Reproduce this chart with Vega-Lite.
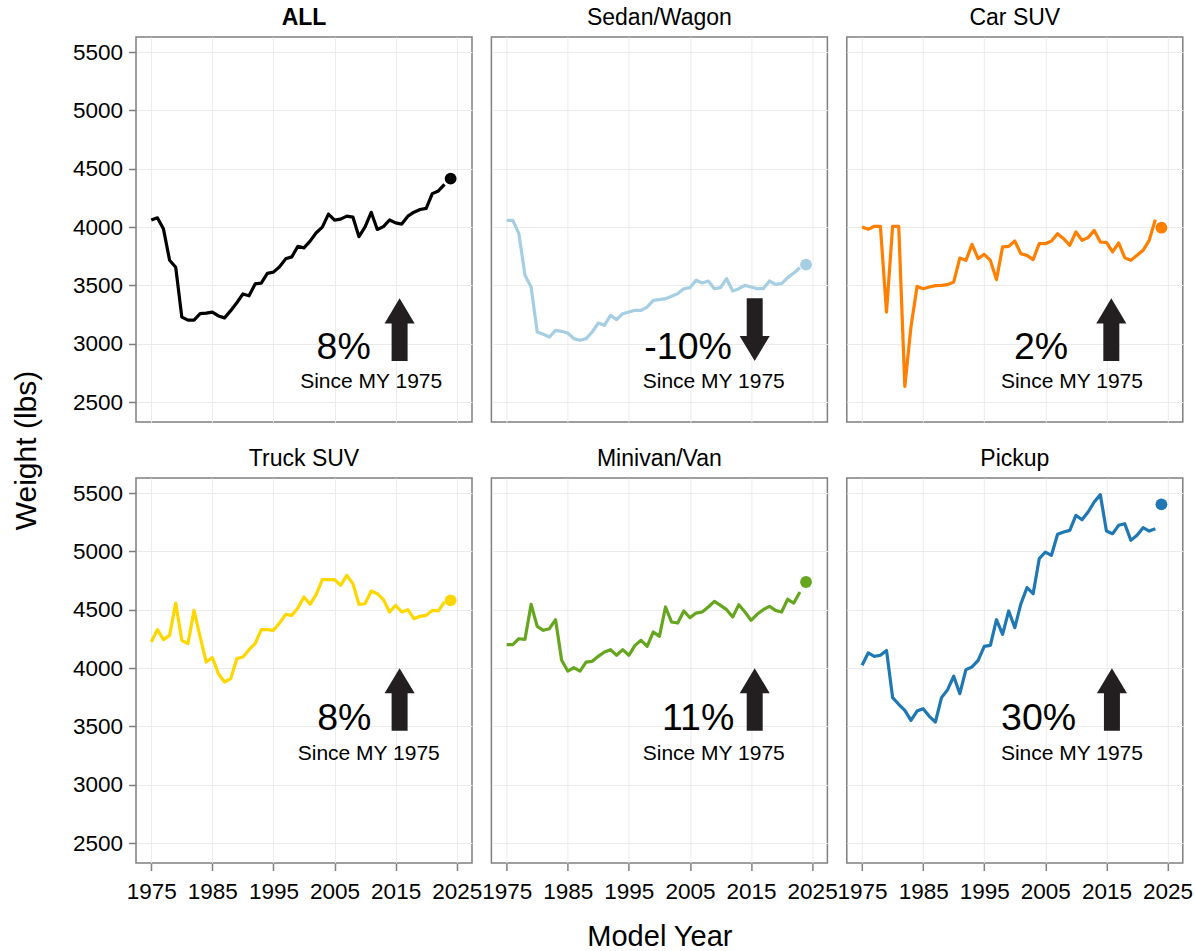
{
  "$schema": "https://vega.github.io/schema/vega-lite/v6.json",
  "padding": {"left": 10, "top": 6, "right": 5, "bottom": 0},
  "background": "#ffffff",
  "columns": 3,
  "spacing": {"row": 56, "column": 19.4},
  "bounds": "flush",
  "config": {
    "font": "Liberation Sans",
    "view": {"stroke": "#7f7f7f", "strokeWidth": 1.5},
    "axis": {"grid": true, "gridColor": "#ebebeb", "gridWidth": 1, "domain": false, "tickColor": "#7f7f7f", "tickWidth": 1.5, "tickSize": 7.5, "labelFontSize": 22.5, "labelColor": "#000000", "titleFontSize": 30, "titleFontWeight": "normal", "titleColor": "#000000", "labelFont": "Liberation Sans", "titleFont": "Liberation Sans"},
    "axisX": {"labelPadding": 10},
    "axisY": {"labelPadding": 6},
    "title": {"fontSize": 23, "fontWeight": "normal", "color": "#000000", "anchor": "middle", "frame": "group", "offset": 7, "baseline": "alphabetic", "font": "Liberation Sans"},
    "text": {"font": "Liberation Sans", "color": "#000000"}
  },
  "datasets": {
    "w": [
      {"cat":"ALL","year":1975,"weight":4060},{"cat":"ALL","year":1976,"weight":4079},{"cat":"ALL","year":1977,"weight":3982},{"cat":"ALL","year":1978,"weight":3715},{"cat":"ALL","year":1979,"weight":3655},{"cat":"ALL","year":1980,"weight":3228},{"cat":"ALL","year":1981,"weight":3202},{"cat":"ALL","year":1982,"weight":3202},{"cat":"ALL","year":1983,"weight":3257},{"cat":"ALL","year":1984,"weight":3262},{"cat":"ALL","year":1985,"weight":3271},{"cat":"ALL","year":1986,"weight":3238},{"cat":"ALL","year":1987,"weight":3221},{"cat":"ALL","year":1988,"weight":3283},{"cat":"ALL","year":1989,"weight":3351},{"cat":"ALL","year":1990,"weight":3426},{"cat":"ALL","year":1991,"weight":3410},{"cat":"ALL","year":1992,"weight":3512},{"cat":"ALL","year":1993,"weight":3519},{"cat":"ALL","year":1994,"weight":3603},{"cat":"ALL","year":1995,"weight":3613},{"cat":"ALL","year":1996,"weight":3659},{"cat":"ALL","year":1997,"weight":3727},{"cat":"ALL","year":1998,"weight":3744},{"cat":"ALL","year":1999,"weight":3835},{"cat":"ALL","year":2000,"weight":3821},{"cat":"ALL","year":2001,"weight":3879},{"cat":"ALL","year":2002,"weight":3951},{"cat":"ALL","year":2003,"weight":3999},{"cat":"ALL","year":2004,"weight":4111},{"cat":"ALL","year":2005,"weight":4059},{"cat":"ALL","year":2006,"weight":4067},{"cat":"ALL","year":2007,"weight":4093},{"cat":"ALL","year":2008,"weight":4085},{"cat":"ALL","year":2009,"weight":3917},{"cat":"ALL","year":2010,"weight":4001},{"cat":"ALL","year":2011,"weight":4126},{"cat":"ALL","year":2012,"weight":3979},{"cat":"ALL","year":2013,"weight":4003},{"cat":"ALL","year":2014,"weight":4060},{"cat":"ALL","year":2015,"weight":4035},{"cat":"ALL","year":2016,"weight":4025},{"cat":"ALL","year":2017,"weight":4093},{"cat":"ALL","year":2018,"weight":4127},{"cat":"ALL","year":2019,"weight":4150},{"cat":"ALL","year":2020,"weight":4160},{"cat":"ALL","year":2021,"weight":4286},{"cat":"ALL","year":2022,"weight":4309},{"cat":"ALL","year":2023,"weight":4366},{"cat":"ALL","year":2024,"weight":4415},
      {"cat":"Sedan/Wagon","year":1975,"weight":4057},{"cat":"Sedan/Wagon","year":1976,"weight":4057},{"cat":"Sedan/Wagon","year":1977,"weight":3943},{"cat":"Sedan/Wagon","year":1978,"weight":3586},{"cat":"Sedan/Wagon","year":1979,"weight":3486},{"cat":"Sedan/Wagon","year":1980,"weight":3100},{"cat":"Sedan/Wagon","year":1981,"weight":3080},{"cat":"Sedan/Wagon","year":1982,"weight":3057},{"cat":"Sedan/Wagon","year":1983,"weight":3114},{"cat":"Sedan/Wagon","year":1984,"weight":3106},{"cat":"Sedan/Wagon","year":1985,"weight":3091},{"cat":"Sedan/Wagon","year":1986,"weight":3043},{"cat":"Sedan/Wagon","year":1987,"weight":3029},{"cat":"Sedan/Wagon","year":1988,"weight":3043},{"cat":"Sedan/Wagon","year":1989,"weight":3100},{"cat":"Sedan/Wagon","year":1990,"weight":3177},{"cat":"Sedan/Wagon","year":1991,"weight":3157},{"cat":"Sedan/Wagon","year":1992,"weight":3243},{"cat":"Sedan/Wagon","year":1993,"weight":3206},{"cat":"Sedan/Wagon","year":1994,"weight":3257},{"cat":"Sedan/Wagon","year":1995,"weight":3271},{"cat":"Sedan/Wagon","year":1996,"weight":3286},{"cat":"Sedan/Wagon","year":1997,"weight":3286},{"cat":"Sedan/Wagon","year":1998,"weight":3314},{"cat":"Sedan/Wagon","year":1999,"weight":3371},{"cat":"Sedan/Wagon","year":2000,"weight":3377},{"cat":"Sedan/Wagon","year":2001,"weight":3386},{"cat":"Sedan/Wagon","year":2002,"weight":3406},{"cat":"Sedan/Wagon","year":2003,"weight":3429},{"cat":"Sedan/Wagon","year":2004,"weight":3471},{"cat":"Sedan/Wagon","year":2005,"weight":3480},{"cat":"Sedan/Wagon","year":2006,"weight":3543},{"cat":"Sedan/Wagon","year":2007,"weight":3520},{"cat":"Sedan/Wagon","year":2008,"weight":3537},{"cat":"Sedan/Wagon","year":2009,"weight":3471},{"cat":"Sedan/Wagon","year":2010,"weight":3480},{"cat":"Sedan/Wagon","year":2011,"weight":3557},{"cat":"Sedan/Wagon","year":2012,"weight":3451},{"cat":"Sedan/Wagon","year":2013,"weight":3471},{"cat":"Sedan/Wagon","year":2014,"weight":3500},{"cat":"Sedan/Wagon","year":2015,"weight":3486},{"cat":"Sedan/Wagon","year":2016,"weight":3471},{"cat":"Sedan/Wagon","year":2017,"weight":3471},{"cat":"Sedan/Wagon","year":2018,"weight":3537},{"cat":"Sedan/Wagon","year":2019,"weight":3509},{"cat":"Sedan/Wagon","year":2020,"weight":3514},{"cat":"Sedan/Wagon","year":2021,"weight":3566},{"cat":"Sedan/Wagon","year":2022,"weight":3606},{"cat":"Sedan/Wagon","year":2023,"weight":3651},{"cat":"Sedan/Wagon","year":2024,"weight":3677},
      {"cat":"Car SUV","year":1975,"weight":4000},{"cat":"Car SUV","year":1976,"weight":3980},{"cat":"Car SUV","year":1977,"weight":4006},{"cat":"Car SUV","year":1978,"weight":4006},{"cat":"Car SUV","year":1979,"weight":3271},{"cat":"Car SUV","year":1980,"weight":4006},{"cat":"Car SUV","year":1981,"weight":4006},{"cat":"Car SUV","year":1982,"weight":2634},{"cat":"Car SUV","year":1983,"weight":3143},{"cat":"Car SUV","year":1984,"weight":3491},{"cat":"Car SUV","year":1985,"weight":3471},{"cat":"Car SUV","year":1986,"weight":3486},{"cat":"Car SUV","year":1987,"weight":3497},{"cat":"Car SUV","year":1988,"weight":3500},{"cat":"Car SUV","year":1989,"weight":3506},{"cat":"Car SUV","year":1990,"weight":3529},{"cat":"Car SUV","year":1991,"weight":3734},{"cat":"Car SUV","year":1992,"weight":3714},{"cat":"Car SUV","year":1993,"weight":3851},{"cat":"Car SUV","year":1994,"weight":3729},{"cat":"Car SUV","year":1995,"weight":3766},{"cat":"Car SUV","year":1996,"weight":3714},{"cat":"Car SUV","year":1997,"weight":3549},{"cat":"Car SUV","year":1998,"weight":3829},{"cat":"Car SUV","year":1999,"weight":3834},{"cat":"Car SUV","year":2000,"weight":3880},{"cat":"Car SUV","year":2001,"weight":3771},{"cat":"Car SUV","year":2002,"weight":3757},{"cat":"Car SUV","year":2003,"weight":3720},{"cat":"Car SUV","year":2004,"weight":3857},{"cat":"Car SUV","year":2005,"weight":3857},{"cat":"Car SUV","year":2006,"weight":3880},{"cat":"Car SUV","year":2007,"weight":3943},{"cat":"Car SUV","year":2008,"weight":3900},{"cat":"Car SUV","year":2009,"weight":3843},{"cat":"Car SUV","year":2010,"weight":3957},{"cat":"Car SUV","year":2011,"weight":3886},{"cat":"Car SUV","year":2012,"weight":3909},{"cat":"Car SUV","year":2013,"weight":3971},{"cat":"Car SUV","year":2014,"weight":3871},{"cat":"Car SUV","year":2015,"weight":3869},{"cat":"Car SUV","year":2016,"weight":3786},{"cat":"Car SUV","year":2017,"weight":3863},{"cat":"Car SUV","year":2018,"weight":3737},{"cat":"Car SUV","year":2019,"weight":3714},{"cat":"Car SUV","year":2020,"weight":3757},{"cat":"Car SUV","year":2021,"weight":3800},{"cat":"Car SUV","year":2022,"weight":3886},{"cat":"Car SUV","year":2023,"weight":4063},{"cat":"Car SUV","year":2024,"weight":3994},
      {"cat":"Truck SUV","year":1975,"weight":4223},{"cat":"Truck SUV","year":1976,"weight":4329},{"cat":"Truck SUV","year":1977,"weight":4243},{"cat":"Truck SUV","year":1978,"weight":4280},{"cat":"Truck SUV","year":1979,"weight":4557},{"cat":"Truck SUV","year":1980,"weight":4237},{"cat":"Truck SUV","year":1981,"weight":4209},{"cat":"Truck SUV","year":1982,"weight":4494},{"cat":"Truck SUV","year":1983,"weight":4266},{"cat":"Truck SUV","year":1984,"weight":4051},{"cat":"Truck SUV","year":1985,"weight":4089},{"cat":"Truck SUV","year":1986,"weight":3951},{"cat":"Truck SUV","year":1987,"weight":3880},{"cat":"Truck SUV","year":1988,"weight":3909},{"cat":"Truck SUV","year":1989,"weight":4080},{"cat":"Truck SUV","year":1990,"weight":4094},{"cat":"Truck SUV","year":1991,"weight":4157},{"cat":"Truck SUV","year":1992,"weight":4209},{"cat":"Truck SUV","year":1993,"weight":4329},{"cat":"Truck SUV","year":1994,"weight":4329},{"cat":"Truck SUV","year":1995,"weight":4323},{"cat":"Truck SUV","year":1996,"weight":4386},{"cat":"Truck SUV","year":1997,"weight":4460},{"cat":"Truck SUV","year":1998,"weight":4451},{"cat":"Truck SUV","year":1999,"weight":4514},{"cat":"Truck SUV","year":2000,"weight":4609},{"cat":"Truck SUV","year":2001,"weight":4546},{"cat":"Truck SUV","year":2002,"weight":4631},{"cat":"Truck SUV","year":2003,"weight":4757},{"cat":"Truck SUV","year":2004,"weight":4757},{"cat":"Truck SUV","year":2005,"weight":4757},{"cat":"Truck SUV","year":2006,"weight":4709},{"cat":"Truck SUV","year":2007,"weight":4794},{"cat":"Truck SUV","year":2008,"weight":4723},{"cat":"Truck SUV","year":2009,"weight":4546},{"cat":"Truck SUV","year":2010,"weight":4551},{"cat":"Truck SUV","year":2011,"weight":4660},{"cat":"Truck SUV","year":2012,"weight":4637},{"cat":"Truck SUV","year":2013,"weight":4586},{"cat":"Truck SUV","year":2014,"weight":4480},{"cat":"Truck SUV","year":2015,"weight":4537},{"cat":"Truck SUV","year":2016,"weight":4480},{"cat":"Truck SUV","year":2017,"weight":4500},{"cat":"Truck SUV","year":2018,"weight":4423},{"cat":"Truck SUV","year":2019,"weight":4443},{"cat":"Truck SUV","year":2020,"weight":4451},{"cat":"Truck SUV","year":2021,"weight":4494},{"cat":"Truck SUV","year":2022,"weight":4489},{"cat":"Truck SUV","year":2023,"weight":4566},{"cat":"Truck SUV","year":2024,"weight":4580},
      {"cat":"Minivan/Van","year":1975,"weight":4200},{"cat":"Minivan/Van","year":1976,"weight":4200},{"cat":"Minivan/Van","year":1977,"weight":4251},{"cat":"Minivan/Van","year":1978,"weight":4246},{"cat":"Minivan/Van","year":1979,"weight":4546},{"cat":"Minivan/Van","year":1980,"weight":4357},{"cat":"Minivan/Van","year":1981,"weight":4323},{"cat":"Minivan/Van","year":1982,"weight":4337},{"cat":"Minivan/Van","year":1983,"weight":4414},{"cat":"Minivan/Van","year":1984,"weight":4066},{"cat":"Minivan/Van","year":1985,"weight":3974},{"cat":"Minivan/Van","year":1986,"weight":4003},{"cat":"Minivan/Van","year":1987,"weight":3974},{"cat":"Minivan/Van","year":1988,"weight":4051},{"cat":"Minivan/Van","year":1989,"weight":4057},{"cat":"Minivan/Van","year":1990,"weight":4100},{"cat":"Minivan/Van","year":1991,"weight":4137},{"cat":"Minivan/Van","year":1992,"weight":4157},{"cat":"Minivan/Van","year":1993,"weight":4109},{"cat":"Minivan/Van","year":1994,"weight":4157},{"cat":"Minivan/Van","year":1995,"weight":4109},{"cat":"Minivan/Van","year":1996,"weight":4194},{"cat":"Minivan/Van","year":1997,"weight":4237},{"cat":"Minivan/Van","year":1998,"weight":4186},{"cat":"Minivan/Van","year":1999,"weight":4309},{"cat":"Minivan/Van","year":2000,"weight":4271},{"cat":"Minivan/Van","year":2001,"weight":4523},{"cat":"Minivan/Van","year":2002,"weight":4394},{"cat":"Minivan/Van","year":2003,"weight":4386},{"cat":"Minivan/Van","year":2004,"weight":4489},{"cat":"Minivan/Van","year":2005,"weight":4431},{"cat":"Minivan/Van","year":2006,"weight":4471},{"cat":"Minivan/Van","year":2007,"weight":4480},{"cat":"Minivan/Van","year":2008,"weight":4523},{"cat":"Minivan/Van","year":2009,"weight":4571},{"cat":"Minivan/Van","year":2010,"weight":4537},{"cat":"Minivan/Van","year":2011,"weight":4500},{"cat":"Minivan/Van","year":2012,"weight":4437},{"cat":"Minivan/Van","year":2013,"weight":4543},{"cat":"Minivan/Van","year":2014,"weight":4480},{"cat":"Minivan/Van","year":2015,"weight":4409},{"cat":"Minivan/Van","year":2016,"weight":4460},{"cat":"Minivan/Van","year":2017,"weight":4500},{"cat":"Minivan/Van","year":2018,"weight":4529},{"cat":"Minivan/Van","year":2019,"weight":4494},{"cat":"Minivan/Van","year":2020,"weight":4480},{"cat":"Minivan/Van","year":2021,"weight":4589},{"cat":"Minivan/Van","year":2022,"weight":4557},{"cat":"Minivan/Van","year":2023,"weight":4651},{"cat":"Minivan/Van","year":2024,"weight":4737},
      {"cat":"Pickup","year":1975,"weight":4023},{"cat":"Pickup","year":1976,"weight":4129},{"cat":"Pickup","year":1977,"weight":4100},{"cat":"Pickup","year":1978,"weight":4109},{"cat":"Pickup","year":1979,"weight":4151},{"cat":"Pickup","year":1980,"weight":3746},{"cat":"Pickup","year":1981,"weight":3689},{"cat":"Pickup","year":1982,"weight":3637},{"cat":"Pickup","year":1983,"weight":3551},{"cat":"Pickup","year":1984,"weight":3631},{"cat":"Pickup","year":1985,"weight":3651},{"cat":"Pickup","year":1986,"weight":3586},{"cat":"Pickup","year":1987,"weight":3537},{"cat":"Pickup","year":1988,"weight":3746},{"cat":"Pickup","year":1989,"weight":3814},{"cat":"Pickup","year":1990,"weight":3929},{"cat":"Pickup","year":1991,"weight":3780},{"cat":"Pickup","year":1992,"weight":3986},{"cat":"Pickup","year":1993,"weight":4009},{"cat":"Pickup","year":1994,"weight":4066},{"cat":"Pickup","year":1995,"weight":4186},{"cat":"Pickup","year":1996,"weight":4194},{"cat":"Pickup","year":1997,"weight":4414},{"cat":"Pickup","year":1998,"weight":4289},{"cat":"Pickup","year":1999,"weight":4489},{"cat":"Pickup","year":2000,"weight":4346},{"cat":"Pickup","year":2001,"weight":4551},{"cat":"Pickup","year":2002,"weight":4689},{"cat":"Pickup","year":2003,"weight":4637},{"cat":"Pickup","year":2004,"weight":4937},{"cat":"Pickup","year":2005,"weight":4994},{"cat":"Pickup","year":2006,"weight":4966},{"cat":"Pickup","year":2007,"weight":5146},{"cat":"Pickup","year":2008,"weight":5166},{"cat":"Pickup","year":2009,"weight":5180},{"cat":"Pickup","year":2010,"weight":5309},{"cat":"Pickup","year":2011,"weight":5271},{"cat":"Pickup","year":2012,"weight":5337},{"cat":"Pickup","year":2013,"weight":5423},{"cat":"Pickup","year":2014,"weight":5486},{"cat":"Pickup","year":2015,"weight":5174},{"cat":"Pickup","year":2016,"weight":5151},{"cat":"Pickup","year":2017,"weight":5223},{"cat":"Pickup","year":2018,"weight":5237},{"cat":"Pickup","year":2019,"weight":5094},{"cat":"Pickup","year":2020,"weight":5137},{"cat":"Pickup","year":2021,"weight":5203},{"cat":"Pickup","year":2022,"weight":5174},{"cat":"Pickup","year":2023,"weight":5194},{"cat":"Pickup","year":2024,"weight":5403}
    ],
    "n": [
      {"cat":"ALL","part":"pct","year":2006.5,"weight":2865,"label":"8%"},
      {"cat":"ALL","part":"sub","year":2011.0,"weight":2623,"label":"Since MY 1975"},
      {"cat":"ALL","part":"arrow","year":2015.65,"weight":3120,"label":"up"},
      {"cat":"Sedan/Wagon","part":"pct","year":2004.7,"weight":2865,"label":"-10%"},
      {"cat":"Sedan/Wagon","part":"sub","year":2008.9,"weight":2623,"label":"Since MY 1975"},
      {"cat":"Sedan/Wagon","part":"arrow","year":2015.6,"weight":3120,"label":"down"},
      {"cat":"Car SUV","part":"pct","year":2004.3,"weight":2865,"label":"2%"},
      {"cat":"Car SUV","part":"sub","year":2009.35,"weight":2623,"label":"Since MY 1975"},
      {"cat":"Car SUV","part":"arrow","year":2015.8,"weight":3120,"label":"up"},
      {"cat":"Truck SUV","part":"pct","year":2006.6,"weight":3470,"label":"8%"},
      {"cat":"Truck SUV","part":"sub","year":2010.6,"weight":3209,"label":"Since MY 1975"},
      {"cat":"Truck SUV","part":"arrow","year":2015.65,"weight":3730,"label":"up"},
      {"cat":"Minivan/Van","part":"pct","year":2006.35,"weight":3470,"label":"11%"},
      {"cat":"Minivan/Van","part":"sub","year":2008.9,"weight":3209,"label":"Since MY 1975"},
      {"cat":"Minivan/Van","part":"arrow","year":2015.6,"weight":3730,"label":"up"},
      {"cat":"Pickup","part":"pct","year":2003.9,"weight":3470,"label":"30%"},
      {"cat":"Pickup","part":"sub","year":2009.35,"weight":3209,"label":"Since MY 1975"},
      {"cat":"Pickup","part":"arrow","year":2015.9,"weight":3730,"label":"up"}
    ]
  },
  "concat": [
    {
      "width": 336, "height": 385,
      "title": {"text": "ALL", "fontWeight": "bold"},
      "encoding": {
        "x": {"field": "year", "type": "quantitative", "scale": {"domain": [1972.5, 2027.5], "nice": false, "zero": false}, "axis": {"values": [1975,1985,1995,2005,2015,2025], "labels": false, "ticks": false, "title": null}},
        "y": {"field": "weight", "type": "quantitative", "scale": {"domain": [2328.6, 5628.6], "nice": false, "zero": false}, "axis": {"values": [2500,3000,3500,4000,4500,5000,5500], "format": "d", "title": "Weight (lbs)", "titleY": 413, "titlePadding": 31}}
      },
      "layer": [
        {"data": {"name": "w"}, "transform": [{"filter": "datum.cat === 'ALL' && datum.year <= 2023"}], "mark": {"type": "line", "strokeWidth": 3.2, "strokeJoin": "round"}, "encoding": {"color": {"field": "cat", "type": "nominal", "scale": {"domain": ["ALL","Sedan/Wagon","Car SUV","Truck SUV","Minivan/Van","Pickup"], "range": ["#000000","#a6cee3","#ff7f00","#ffd700","#66a61e","#1f78b4"]}, "legend": null}}},
        {"data": {"name": "w"}, "transform": [{"filter": "datum.cat === 'ALL' && datum.year === 2024"}], "mark": {"type": "point", "filled": true, "size": 140, "opacity": 1}, "encoding": {"color": {"field": "cat", "type": "nominal", "legend": null}}},
        {"data": {"name": "n"}, "transform": [{"filter": "datum.cat === 'ALL' && datum.part === 'arrow'"}], "mark": {"type": "point", "filled": true, "opacity": 1, "size": 3931, "color": "#231f20", "strokeWidth": 0}, "encoding": {"shape": {"field": "label", "type": "nominal", "scale": {"domain": ["up","down"], "range": ["M0,-1L0.48,-0.2L0.255,-0.2L0.255,1L-0.255,1L-0.255,-0.2L-0.48,-0.2Z","M0,1L0.48,0.2L0.255,0.2L0.255,-1L-0.255,-1L-0.255,0.2L-0.48,0.2Z"]}, "legend": null}}},
        {"data": {"name": "n"}, "transform": [{"filter": "datum.cat === 'ALL' && datum.part === 'pct'"}], "mark": {"type": "text", "fontSize": 37.5, "align": "center", "baseline": "alphabetic"}, "encoding": {"text": {"field": "label"}}},
        {"data": {"name": "n"}, "transform": [{"filter": "datum.cat === 'ALL' && datum.part === 'sub'"}], "mark": {"type": "text", "fontSize": 21, "align": "center", "baseline": "alphabetic"}, "encoding": {"text": {"field": "label"}}}
      ]
    },
    {
      "width": 336, "height": 385,
      "title": {"text": "Sedan/Wagon"},
      "encoding": {
        "x": {"field": "year", "type": "quantitative", "scale": {"domain": [1972.5, 2027.5], "nice": false, "zero": false}, "axis": {"values": [1975,1985,1995,2005,2015,2025], "labels": false, "ticks": false, "title": null}},
        "y": {"field": "weight", "type": "quantitative", "scale": {"domain": [2328.6, 5628.6], "nice": false, "zero": false}, "axis": {"values": [2500,3000,3500,4000,4500,5000,5500], "labels": false, "ticks": false, "title": null}}
      },
      "layer": [
        {"data": {"name": "w"}, "transform": [{"filter": "datum.cat === 'Sedan/Wagon' && datum.year <= 2023"}], "mark": {"type": "line", "strokeWidth": 3.2, "strokeJoin": "round"}, "encoding": {"color": {"field": "cat", "type": "nominal", "legend": null}}},
        {"data": {"name": "w"}, "transform": [{"filter": "datum.cat === 'Sedan/Wagon' && datum.year === 2024"}], "mark": {"type": "point", "filled": true, "size": 140, "opacity": 1}, "encoding": {"color": {"field": "cat", "type": "nominal", "legend": null}}},
        {"data": {"name": "n"}, "transform": [{"filter": "datum.cat === 'Sedan/Wagon' && datum.part === 'arrow'"}], "mark": {"type": "point", "filled": true, "opacity": 1, "size": 3931, "color": "#231f20", "strokeWidth": 0}, "encoding": {"shape": {"field": "label", "type": "nominal", "legend": null}}},
        {"data": {"name": "n"}, "transform": [{"filter": "datum.cat === 'Sedan/Wagon' && datum.part === 'pct'"}], "mark": {"type": "text", "fontSize": 37.5, "align": "center", "baseline": "alphabetic"}, "encoding": {"text": {"field": "label"}}},
        {"data": {"name": "n"}, "transform": [{"filter": "datum.cat === 'Sedan/Wagon' && datum.part === 'sub'"}], "mark": {"type": "text", "fontSize": 21, "align": "center", "baseline": "alphabetic"}, "encoding": {"text": {"field": "label"}}}
      ]
    },
    {
      "width": 336, "height": 385,
      "title": {"text": "Car SUV"},
      "encoding": {
        "x": {"field": "year", "type": "quantitative", "scale": {"domain": [1972.5, 2027.5], "nice": false, "zero": false}, "axis": {"values": [1975,1985,1995,2005,2015,2025], "labels": false, "ticks": false, "title": null}},
        "y": {"field": "weight", "type": "quantitative", "scale": {"domain": [2328.6, 5628.6], "nice": false, "zero": false}, "axis": {"values": [2500,3000,3500,4000,4500,5000,5500], "labels": false, "ticks": false, "title": null}}
      },
      "layer": [
        {"data": {"name": "w"}, "transform": [{"filter": "datum.cat === 'Car SUV' && datum.year <= 2023"}], "mark": {"type": "line", "strokeWidth": 3.2, "strokeJoin": "round"}, "encoding": {"color": {"field": "cat", "type": "nominal", "legend": null}}},
        {"data": {"name": "w"}, "transform": [{"filter": "datum.cat === 'Car SUV' && datum.year === 2024"}], "mark": {"type": "point", "filled": true, "size": 140, "opacity": 1}, "encoding": {"color": {"field": "cat", "type": "nominal", "legend": null}}},
        {"data": {"name": "n"}, "transform": [{"filter": "datum.cat === 'Car SUV' && datum.part === 'arrow'"}], "mark": {"type": "point", "filled": true, "opacity": 1, "size": 3931, "color": "#231f20", "strokeWidth": 0}, "encoding": {"shape": {"field": "label", "type": "nominal", "legend": null}}},
        {"data": {"name": "n"}, "transform": [{"filter": "datum.cat === 'Car SUV' && datum.part === 'pct'"}], "mark": {"type": "text", "fontSize": 37.5, "align": "center", "baseline": "alphabetic"}, "encoding": {"text": {"field": "label"}}},
        {"data": {"name": "n"}, "transform": [{"filter": "datum.cat === 'Car SUV' && datum.part === 'sub'"}], "mark": {"type": "text", "fontSize": 21, "align": "center", "baseline": "alphabetic"}, "encoding": {"text": {"field": "label"}}}
      ]
    },
    {
      "width": 336, "height": 385,
      "title": {"text": "Truck SUV"},
      "encoding": {
        "x": {"field": "year", "type": "quantitative", "scale": {"domain": [1972.5, 2027.5], "nice": false, "zero": false}, "axis": {"values": [1975,1985,1995,2005,2015,2025], "format": "d", "title": null}},
        "y": {"field": "weight", "type": "quantitative", "scale": {"domain": [2328.6, 5628.6], "nice": false, "zero": false}, "axis": {"values": [2500,3000,3500,4000,4500,5000,5500], "format": "d", "title": null}}
      },
      "layer": [
        {"data": {"name": "w"}, "transform": [{"filter": "datum.cat === 'Truck SUV' && datum.year <= 2023"}], "mark": {"type": "line", "strokeWidth": 3.2, "strokeJoin": "round"}, "encoding": {"color": {"field": "cat", "type": "nominal", "legend": null}}},
        {"data": {"name": "w"}, "transform": [{"filter": "datum.cat === 'Truck SUV' && datum.year === 2024"}], "mark": {"type": "point", "filled": true, "size": 140, "opacity": 1}, "encoding": {"color": {"field": "cat", "type": "nominal", "legend": null}}},
        {"data": {"name": "n"}, "transform": [{"filter": "datum.cat === 'Truck SUV' && datum.part === 'arrow'"}], "mark": {"type": "point", "filled": true, "opacity": 1, "size": 3931, "color": "#231f20", "strokeWidth": 0}, "encoding": {"shape": {"field": "label", "type": "nominal", "legend": null}}},
        {"data": {"name": "n"}, "transform": [{"filter": "datum.cat === 'Truck SUV' && datum.part === 'pct'"}], "mark": {"type": "text", "fontSize": 37.5, "align": "center", "baseline": "alphabetic"}, "encoding": {"text": {"field": "label"}}},
        {"data": {"name": "n"}, "transform": [{"filter": "datum.cat === 'Truck SUV' && datum.part === 'sub'"}], "mark": {"type": "text", "fontSize": 21, "align": "center", "baseline": "alphabetic"}, "encoding": {"text": {"field": "label"}}}
      ]
    },
    {
      "width": 336, "height": 385,
      "title": {"text": "Minivan/Van"},
      "encoding": {
        "x": {"field": "year", "type": "quantitative", "scale": {"domain": [1972.5, 2027.5], "nice": false, "zero": false}, "axis": {"values": [1975,1985,1995,2005,2015,2025], "format": "d", "title": "Model Year", "titleFontSize": 29, "titlePadding": 19}},
        "y": {"field": "weight", "type": "quantitative", "scale": {"domain": [2328.6, 5628.6], "nice": false, "zero": false}, "axis": {"values": [2500,3000,3500,4000,4500,5000,5500], "labels": false, "ticks": false, "title": null}}
      },
      "layer": [
        {"data": {"name": "w"}, "transform": [{"filter": "datum.cat === 'Minivan/Van' && datum.year <= 2023"}], "mark": {"type": "line", "strokeWidth": 3.2, "strokeJoin": "round"}, "encoding": {"color": {"field": "cat", "type": "nominal", "legend": null}}},
        {"data": {"name": "w"}, "transform": [{"filter": "datum.cat === 'Minivan/Van' && datum.year === 2024"}], "mark": {"type": "point", "filled": true, "size": 140, "opacity": 1}, "encoding": {"color": {"field": "cat", "type": "nominal", "legend": null}}},
        {"data": {"name": "n"}, "transform": [{"filter": "datum.cat === 'Minivan/Van' && datum.part === 'arrow'"}], "mark": {"type": "point", "filled": true, "opacity": 1, "size": 3931, "color": "#231f20", "strokeWidth": 0}, "encoding": {"shape": {"field": "label", "type": "nominal", "legend": null}}},
        {"data": {"name": "n"}, "transform": [{"filter": "datum.cat === 'Minivan/Van' && datum.part === 'pct'"}], "mark": {"type": "text", "fontSize": 37.5, "align": "center", "baseline": "alphabetic"}, "encoding": {"text": {"field": "label"}}},
        {"data": {"name": "n"}, "transform": [{"filter": "datum.cat === 'Minivan/Van' && datum.part === 'sub'"}], "mark": {"type": "text", "fontSize": 21, "align": "center", "baseline": "alphabetic"}, "encoding": {"text": {"field": "label"}}}
      ]
    },
    {
      "width": 336, "height": 385,
      "title": {"text": "Pickup"},
      "encoding": {
        "x": {"field": "year", "type": "quantitative", "scale": {"domain": [1972.5, 2027.5], "nice": false, "zero": false}, "axis": {"values": [1975,1985,1995,2005,2015,2025], "format": "d", "title": null}},
        "y": {"field": "weight", "type": "quantitative", "scale": {"domain": [2328.6, 5628.6], "nice": false, "zero": false}, "axis": {"values": [2500,3000,3500,4000,4500,5000,5500], "labels": false, "ticks": false, "title": null}}
      },
      "layer": [
        {"data": {"name": "w"}, "transform": [{"filter": "datum.cat === 'Pickup' && datum.year <= 2023"}], "mark": {"type": "line", "strokeWidth": 3.2, "strokeJoin": "round"}, "encoding": {"color": {"field": "cat", "type": "nominal", "legend": null}}},
        {"data": {"name": "w"}, "transform": [{"filter": "datum.cat === 'Pickup' && datum.year === 2024"}], "mark": {"type": "point", "filled": true, "size": 140, "opacity": 1}, "encoding": {"color": {"field": "cat", "type": "nominal", "legend": null}}},
        {"data": {"name": "n"}, "transform": [{"filter": "datum.cat === 'Pickup' && datum.part === 'arrow'"}], "mark": {"type": "point", "filled": true, "opacity": 1, "size": 3931, "color": "#231f20", "strokeWidth": 0}, "encoding": {"shape": {"field": "label", "type": "nominal", "legend": null}}},
        {"data": {"name": "n"}, "transform": [{"filter": "datum.cat === 'Pickup' && datum.part === 'pct'"}], "mark": {"type": "text", "fontSize": 37.5, "align": "center", "baseline": "alphabetic"}, "encoding": {"text": {"field": "label"}}},
        {"data": {"name": "n"}, "transform": [{"filter": "datum.cat === 'Pickup' && datum.part === 'sub'"}], "mark": {"type": "text", "fontSize": 21, "align": "center", "baseline": "alphabetic"}, "encoding": {"text": {"field": "label"}}}
      ]
    }
  ]
}
